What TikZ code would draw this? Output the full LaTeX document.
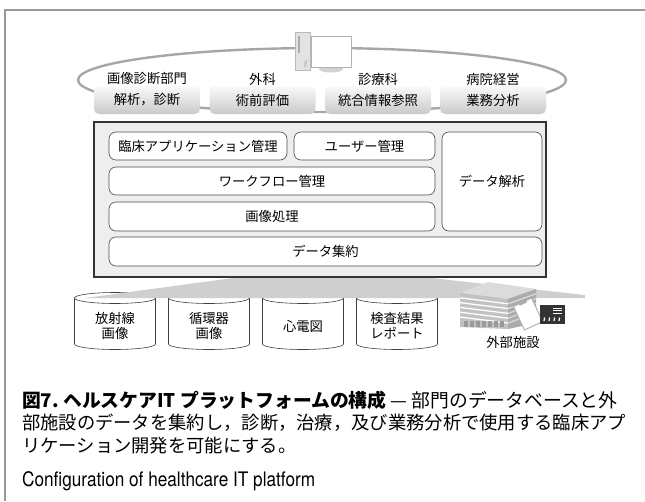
\documentclass[tikz,border=0pt]{standalone}
\usepackage{fontspec}
\newfontfamily\jp{Noto Sans CJK JP}
\newfontfamily\en{TeX Gyre Heros}[FakeStretch=0.86]

\tikzset{
  every node/.style={inner sep=0pt},
  ring/.style={draw=gray!70, line width=2.4pt},
  dept/.style={font=\jp\fontsize{13.3}{15}\selectfont},
  task/.style={rounded corners=5pt, top color=gray!4, bottom color=gray!42,
    minimum width=106pt, minimum height=28pt, font=\jp\fontsize{13.3}{15}\selectfont},
  platform/.style={draw=black!80, fill=gray!13, line width=1.2pt},
  module/.style={draw=black!70, fill=white, rounded corners=7pt, line width=0.6pt,
    font=\jp\fontsize{13.3}{15}\selectfont},
  dbase/.style={draw=black!75, fill=white, line width=0.6pt},
  caption/.style={anchor=west, font=\jp\fontsize{18.3}{22}\selectfont}
}

\begin{document}
\begin{tikzpicture}[x=1pt,y=-1pt]
  \useasboundingbox (0,0) rectangle (645,501);
  \draw[gray!80,line width=1.2pt] (645,10) -- (5,10) -- (5,501);

  % ring through the departments
  \draw[ring] (322,80) ellipse [x radius=244, y radius=32];

  % workstation
  \draw[fill=gray!22,draw=gray!55,line width=0.5pt] (295,32) rectangle (310,70);
  \draw[gray!65,line width=1.8pt] (299,36) -- (299,53);
  \foreach \v in {0,...,3}
    \draw[gray!60,line width=0.4pt] (304,{63+\v*1.6}) -- (307,{60+\v*1.6});
  \fill[gray!35] (331,69) ellipse [x radius=12, y radius=3.5];
  \draw[fill=white,draw=gray!60,line width=0.8pt] (311,36) rectangle (351,67);

  \foreach \x/\d/\t [count=\i] in {147/画像診断部門/解析，診断, 262.5/外科/術前評価,
      378/診療科/統合情報参照, 493/病院経営/業務分析} {
    \node[dept] (d\i) at (\x,79) {\d};
    \node[task] (t\i) at (\x,100) {\t};
  }

  % databases
  \foreach \c in {115,209,303,397}
    \draw[dbase] (\c-40.5,298) -- (\c-40.5,344)
      arc[start angle=180, end angle=0, x radius=40.5, y radius=5.5]
      -- (\c+40.5,298)
      arc[start angle=0, end angle=-180, x radius=40.5, y radius=5.5] -- cycle;
  \fill[gray!38] (322,266) -- (585,295) -- (585,298) -- (85,298) -- cycle;
  \foreach \c in {115,209,303,397}
    \draw[black!75,line width=0.6pt] (\c-40.5,298)
      arc[start angle=180, end angle=0, x radius=40.5, y radius=5.5];
  \foreach \c/\t [count=\i] in {115/放射線\\画像, 209/循環器\\画像, 303/心電図, 397/検査結果\\レポート}
    \node[dept, align=center] (db\i) at (\c,326) {\t};

  % platform
  \node[platform, minimum width=452pt, minimum height=155pt] (core) at (320,199.5) {};
  \node[module, minimum width=178pt, minimum height=28pt] (clin) at (198,146) {臨床アプリケーション管理};
  \node[module, minimum width=141pt, minimum height=28pt] (user) at (364.5,146) {ユーザー管理};
  \node[module, minimum width=100pt, minimum height=99pt] (anly) at (492,181.5) {データ解析};
  \node[module, minimum width=326pt, minimum height=28pt] (flow) at (272,181) {ワークフロー管理};
  \node[module, minimum width=326pt, minimum height=29pt] (imgp) at (272,216.5) {画像処理};
  \node[module, minimum width=433pt, minimum height=29pt] (aggr) at (325.5,251.5) {データ集約};

  % external facility
  \fill[gray!28] (460,293) -- (488,282) -- (536,289) -- (508,299) -- cycle;
  \fill[gray!48] (460,293) -- (508,299) -- (508,329) -- (460,327) -- cycle;
  \fill[gray!66] (508,299) -- (536,289) -- (536,323) -- (508,329) -- cycle;
  \foreach \k in {1,...,5} {
    \draw[white,line width=1.3pt] (460,{293+\k*4.8}) -- (508,{299+\k*4.8});
    \draw[gray!30,line width=1.3pt] (508,{299+\k*4.8}) -- (536,{289+\k*4.8});
  }
  \foreach \x in {464,470,...,502}
    \fill[gray!80] (\x,321) rectangle ++(4,6);
  \begin{scope}[shift={(528,314)},rotate=25]
    \draw[fill=white,draw=gray!65,line width=0.9pt] (-10,-13) rectangle (10,13);
    \fill[gray!65] (-4,-15) rectangle (4,-11);
  \end{scope}
  \fill[black!80] (540,305) rectangle (565,324);
  \foreach \y in {308,310.5,313}
    \draw[white,line width=0.9pt] (553,\y) -- (562,\y);
  \foreach \x in {544,549,554,559}
    \draw[white,line width=1.2pt] (\x,321) -- (\x+0.6,317.5);
  \node[dept] (ext) at (513,342) {外部施設};

  % caption
  \node[caption, font=\jp\fontsize{18.8}{22}\selectfont] (cap1) at (22,400)
    {{\bfseries 図7.\ ヘルスケアIT プラットフォームの構成}\ — 部門のデータベースと外};
  \node[caption] (cap2) at (22,423) {部施設のデータを集約し，診断，治療，及び業務分析で使用する臨床アプ};
  \node[caption] (cap3) at (22,446) {リケーション開発を可能にする。};
  \node[anchor=west, font=\en\fontsize{20}{24}\selectfont] (cap4) at (22,481)
    {Configuration of healthcare IT platform};
\end{tikzpicture}
\end{document}
